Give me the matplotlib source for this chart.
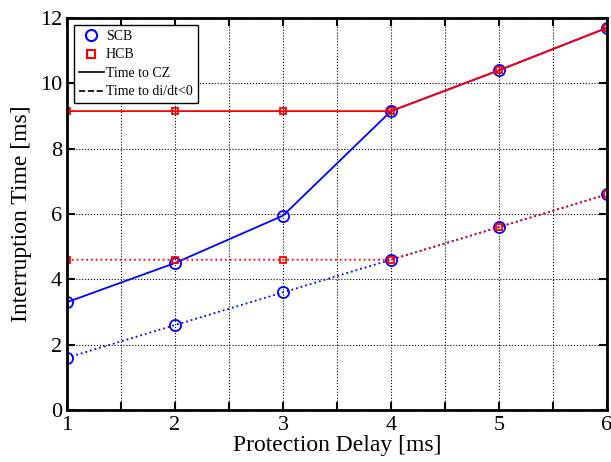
import matplotlib.pyplot as plt
from matplotlib.lines import Line2D
from matplotlib import ticker

plt.rcParams['font.family'] = ['Liberation Serif', 'DejaVu Serif']

delay = [1, 2, 3, 4, 5, 6]
scb_cz = [3.3, 4.5, 5.95, 9.15, 10.4, 11.7]
scb_didt = [1.6, 2.6, 3.6, 4.6, 5.6, 6.6]
hcb_cz = [9.15, 9.15, 9.15, 9.15, 10.4, 11.7]
hcb_didt = [4.6, 4.6, 4.6, 4.6, 5.6, 6.6]

fig = plt.figure(figsize=(6.11, 4.62), dpi=100)
ax = fig.add_axes([0.1097, 0.1126, 0.8838, 0.8484])

ax.plot(delay, scb_cz, color='blue', linestyle='-', linewidth=1.3,
        marker='o', markersize=8, markerfacecolor='none', markeredgewidth=1.3)
ax.plot(delay, scb_didt, color='blue', linestyle=':', linewidth=1.3,
        marker='o', markersize=8, markerfacecolor='none', markeredgewidth=1.3)
ax.plot(delay, hcb_cz, color='red', linestyle='-', linewidth=1.3,
        marker='s', markersize=5, markerfacecolor='none', markeredgewidth=1.3)
ax.plot(delay, hcb_didt, color='red', linestyle=':', linewidth=1.3,
        marker='s', markersize=5, markerfacecolor='none', markeredgewidth=1.3)

ax.set_xlim(1, 6)
ax.set_ylim(0, 12)
ax.xaxis.set_major_locator(ticker.MultipleLocator(1))
ax.xaxis.set_minor_locator(ticker.MultipleLocator(0.5))
ax.yaxis.set_major_locator(ticker.MultipleLocator(2))
ax.tick_params(which='both', direction='in', top=True, right=True,
               length=6, width=1.5, labelsize=16)
ax.tick_params(axis='x', pad=4)
ax.grid(which='both', axis='x', color='black', linestyle=':', linewidth=0.8)
ax.grid(which='major', axis='y', color='black', linestyle=':', linewidth=0.8)
ax.set_axisbelow(True)
for s in ax.spines.values():
    s.set_linewidth(2)

ax.set_xlabel('Protection Delay [ms]', fontsize=17, labelpad=0)
ax.set_ylabel('Interruption Time [ms]', fontsize=17, labelpad=6)

handles = [
    Line2D([], [], color='blue', linestyle='none', marker='o', markersize=8,
           markerfacecolor='none', markeredgewidth=1.5),
    Line2D([], [], color='red', linestyle='none', marker='s', markersize=6,
           markerfacecolor='none', markeredgewidth=1.5),
    Line2D([], [], color='black', linestyle='-', linewidth=1.2),
    Line2D([], [], color='black', linestyle='--', linewidth=1.2),
]
labels = ['SCB', 'HCB', 'Time to CZ', r'Time to di/dt<0']
leg = ax.legend(handles, labels, loc='upper left', fontsize=10, fancybox=False,
                edgecolor='black', framealpha=1, handlelength=1.8,
                borderaxespad=0.5, borderpad=0.35, labelspacing=0.4,
                handletextpad=0.15)
leg.get_frame().set_linewidth(1.0)

fig.savefig('out.png', dpi=100)
